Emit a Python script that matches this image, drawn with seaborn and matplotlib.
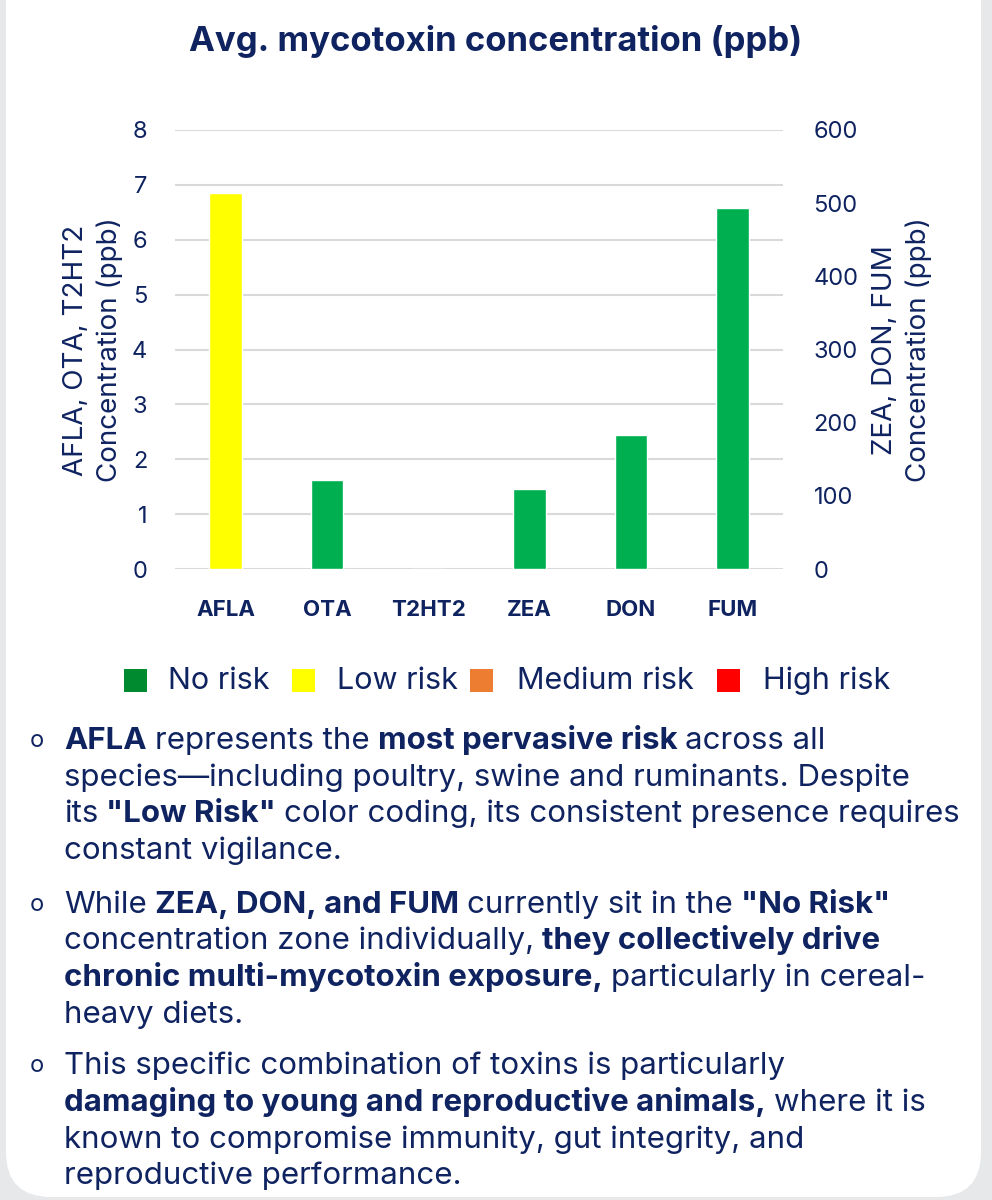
import pandas as pd
import matplotlib
matplotlib.use("Agg")
import matplotlib.pyplot as plt
import seaborn as sns
from matplotlib.patches import FancyBboxPatch, Rectangle

# data
categories = ["AFLA", "OTA", "T2HT2", "ZEA", "DON", "FUM"]
left_cats = ["AFLA", "OTA", "T2HT2"]
left_vals = [6.85, 1.62, 0.0]
left_risk = ["Low risk", "No risk", "No risk"]
right_cats = ["ZEA", "DON", "FUM"]
right_vals = [109, 183, 493]
right_risk = ["No risk", "No risk", "No risk"]
left_ticks = [0, 1, 2, 3, 4, 5, 6, 7, 8]
right_ticks = [0, 100, 200, 300, 400, 500, 600]
legend_labels = ["No risk", "Low risk", "Medium risk", "High risk"]

NAVY = "#0e2360"
bar_colors = {"No risk": "#00b050", "Low risk": "#ffff00"}
legend_colors = ["#008a30", "#ffff00", "#ed7d31", "#ff0000"]

sns.set_style("white")
plt.rcParams["font.family"] = ["Inter", "DejaVu Sans"]

W, H = 992, 1200
fig = plt.figure(figsize=(W / 100, H / 100), dpi=100)
fig.patch.set_facecolor("#e7e8ea")

# pixel overlay for card + text
bg = fig.add_axes([0, 0, 1, 1], zorder=0)
bg.set_xlim(0, W)
bg.set_ylim(0, H)
bg.axis("off")


def Y(y):
    return H - y


bg.add_patch(FancyBboxPatch((6, 3), 975, 1240, boxstyle="round,pad=0,rounding_size=45",
                            facecolor="white", edgecolor="none"))

bg.text(496, Y(42), "Avg. mycotoxin concentration (ppb)", ha="center", va="center",
        fontsize=25, fontweight="bold", color=NAVY)

# chart
x0, x1, yb, yt = 175, 783, 569, 130
ax = fig.add_axes([x0 / W, (H - yb) / H, (x1 - x0) / W, (yb - yt) / H], zorder=1)
ax.patch.set_visible(False)
ax2 = ax.twinx()

df_left = pd.DataFrame({"cat": left_cats, "val": left_vals, "risk": left_risk})
df_right = pd.DataFrame({"cat": right_cats, "val": right_vals, "risk": right_risk})

sns.barplot(data=df_left, x="cat", y="val", hue="risk", palette=bar_colors, order=categories,
            dodge=False, width=0.32, saturation=1, legend=False, ax=ax, zorder=3)
sns.barplot(data=df_right, x="cat", y="val", hue="risk", palette=bar_colors, order=categories,
            dodge=False, width=0.32, saturation=1, legend=False, ax=ax2, zorder=3)

ax.set_xlim(-0.5, 5.5)
ax.set_ylim(0, 8)
ax2.set_ylim(0, 600)
ax.set_yticks(left_ticks)
ax2.set_yticks(right_ticks)
ax.set_xlabel("")
ax.set_ylabel("")
ax2.set_ylabel("")
ax2.set_xlabel("")
ax.grid(axis="y", color="#d9d9d9", linewidth=1.5, zorder=0)
ax.set_axisbelow(True)
for a in (ax, ax2):
    for s in a.spines.values():
        s.set_visible(False)
ax.tick_params(axis="y", length=0, pad=20, labelsize=17, labelcolor=NAVY)
ax2.tick_params(axis="y", length=0, pad=22, labelsize=17, labelcolor=NAVY)
ax.tick_params(axis="x", length=0, pad=22, labelsize=16, labelcolor=NAVY)
for t in ax.get_xticklabels():
    t.set_fontweight("bold")

bg.text(93, Y(350), "AFLA, OTA, T2HT2\nConcentration (ppb)", rotation=90, ha="center",
        va="center", multialignment="center", fontsize=20, color=NAVY, linespacing=1.35)
bg.text(902, Y(350), "ZEA, DON, FUM\nConcentration (ppb)", rotation=90, ha="center",
        va="center", multialignment="center", fontsize=20, color=NAVY, linespacing=1.35)

# legend
sq_x = [124, 292, 470, 717]
lab_x = [168, 337, 517, 763]
for sx, lx, c, lab in zip(sq_x, lab_x, legend_colors, legend_labels):
    bg.add_patch(Rectangle((sx, Y(692)), 23, 23, facecolor=c, edgecolor="none"))
    bg.text(lx, Y(681), lab, ha="left", va="center", fontsize=22, color=NAVY)

# bullet text with mixed weights
paragraphs = [
    [
        [("AFLA", True), (" represents the ", False), ("most pervasive risk", True), (" across all", False)],
        [("species\u2014including poultry, swine and ruminants. Despite", False)],
        [("its ", False), ('"Low Risk"', True), (" color coding, its consistent presence requires", False)],
        [("constant vigilance.", False)],
    ],
    [
        [("While ", False), ("ZEA, DON, and FUM", True), (" currently sit in the ", False), ('"No Risk"', True)],
        [("concentration zone individually, ", False), ("they collectively drive", True)],
        [("chronic multi-mycotoxin exposure,", True), (" particularly in cereal-", False)],
        [("heavy diets.", False)],
    ],
    [
        [("This specific combination of toxins is particularly", False)],
        [("damaging to young and reproductive animals,", True), (" where it is", False)],
        [("known to compromise immunity, gut integrity, and", False)],
        [("reproductive performance.", False)],
    ],
]
baselines = [[749, 786, 822, 859], [913, 949, 986, 1023], [1074, 1111, 1148, 1184]]

fs = 22.5
renderer = fig.canvas.get_renderer()
space_px = fs * 100 / 72 * 0.26
for para, ys in zip(paragraphs, baselines):
    bg.text(37, Y(ys[0] - 8), "o", ha="center", va="center", fontsize=17, color=NAVY)
    for line, yl in zip(para, ys):
        x = 64
        for seg, bold in line:
            if seg.startswith(" "):
                x += space_px
            t = bg.text(x, Y(yl), seg.strip(), ha="left", va="baseline", fontsize=fs,
                        color=NAVY, fontweight="bold" if bold else "normal")
            x += t.get_window_extent(renderer).width
            if seg.endswith(" "):
                x += space_px

fig.savefig("out.png", dpi=100, facecolor=fig.get_facecolor())
